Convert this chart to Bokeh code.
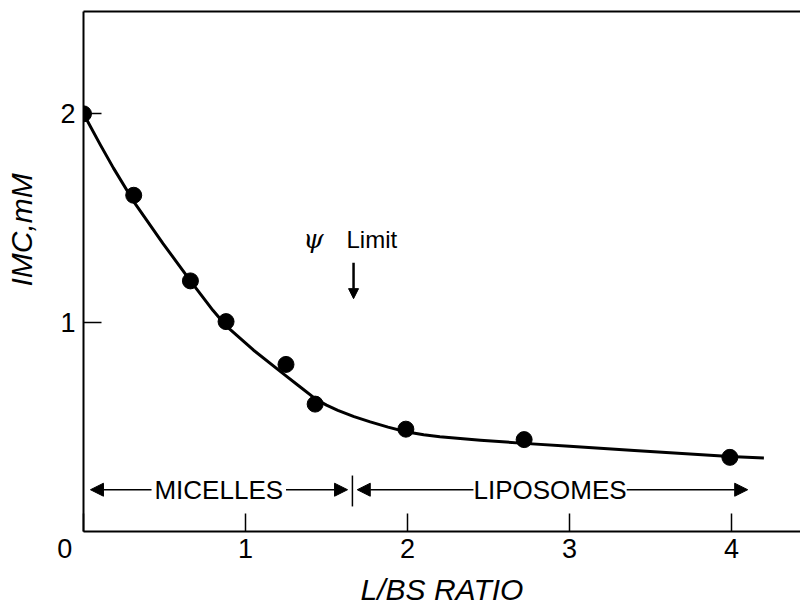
from bokeh.plotting import figure
from bokeh.models import (LinearAxis, FixedTicker, Range1d, Label, Arrow,
                          NormalHead)
from bokeh.embed import file_html
from bokeh.resources import INLINE

# measured data points
lbs_ratio = [0.0, 0.31, 0.66, 0.88, 1.25, 1.43, 1.99, 2.72, 3.99]
imc_mM = [2.0, 1.61, 1.20, 1.005, 0.80, 0.61, 0.49, 0.44, 0.355]

# fitted curve
curve_x = [0.0, 0.105, 0.185, 0.31, 0.49, 0.66, 0.80, 0.88, 1.05, 1.25,
           1.33, 1.43, 1.50, 1.57, 1.67, 1.77, 1.88, 1.99, 2.1, 2.2, 2.45,
           2.72, 3.0, 3.4, 3.99, 4.2]
curve_y = [2.0, 1.85, 1.74, 1.58, 1.38, 1.20, 1.058, 0.985, 0.868, 0.745,
           0.697, 0.636, 0.605, 0.58, 0.55, 0.525, 0.50, 0.478, 0.463,
           0.454, 0.437, 0.422, 0.408, 0.388, 0.359, 0.352]

x_ticks = [0, 1, 2, 3, 4]
y_ticks = [1, 2]
NB = "\u00a0"
x_tick_labels = {0: "0" + NB * 5, 1: "1", 2: "2", 3: "3", 4: "4"}

FONT = "Liberation Sans"

p = figure(width=800, height=610, output_backend="svg", toolbar_location=None,
           x_range=Range1d(0, 4.426), y_range=Range1d(0, 2.49),
           x_axis_location=None, y_axis_location=None,
           min_border_left=83, min_border_right=0, min_border_top=11,
           min_border_bottom=79)
p.outline_line_color = None
p.grid.visible = False
p.background_fill_color = "white"
p.border_fill_color = "white"

xax = LinearAxis(ticker=FixedTicker(ticks=x_ticks),
                 major_label_overrides=x_tick_labels)
yax = LinearAxis(ticker=FixedTicker(ticks=y_ticks))
for ax in (xax, yax):
    ax.axis_line_width = 2
    ax.axis_line_color = "black"
    ax.major_tick_in = 18
    ax.major_tick_out = 0
    ax.major_tick_line_width = 1.5
    ax.minor_tick_line_color = None
    ax.major_label_text_font = FONT
    ax.major_label_text_font_size = "27px"
    ax.major_label_text_color = "black"
    ax.axis_label_text_font = FONT
    ax.axis_label_text_font_style = "italic"
    ax.axis_label_text_font_size = "30px"
    ax.axis_label_text_color = "black"
xax.major_label_standoff = 2
yax.major_label_standoff = 8
xax.axis_label = "L/BS RATIO"
xax.axis_label_standoff = 6
yax.axis_label = NB * 10 + "IMC,mM"
yax.axis_label_standoff = 19
p.add_layout(xax, "below")
p.add_layout(yax, "left")

top = LinearAxis(major_tick_in=0, major_tick_out=0, major_label_text_font_size="0px",
                 minor_tick_line_color=None, axis_line_width=2,
                 ticker=FixedTicker(ticks=[]))
p.add_layout(top, "above")

p.line(curve_x, curve_y, line_width=3, line_color="black", line_join="round")
p.scatter(lbs_ratio, imc_mM, size=16, fill_color="black", line_color="black")

# region annotations
ry = 0.20
for xs, xe in [(0.42, 0.043), (1.25, 1.63), (2.41, 1.69), (3.35, 4.10)]:
    p.add_layout(Arrow(end=NormalHead(size=13, fill_color="black", line_color="black"),
                       x_start=xs, y_start=ry, x_end=xe, y_end=ry,
                       line_width=1.5, line_color="black"))
p.add_layout(Label(x=0.835, y=ry, text="MICELLES", text_font=FONT,
                   text_font_size="26px", text_align="center", text_color="black",
                   text_baseline="middle", background_fill_color="white"))
p.add_layout(Label(x=2.88, y=ry, text="LIPOSOMES", text_font=FONT,
                   text_font_size="26px", text_align="center", text_color="black",
                   text_baseline="middle", background_fill_color="white"))
p.segment(x0=[1.66], y0=[0.12], x1=[1.66], y1=[0.268], line_width=1.5,
          line_color="black")

# psi limit
p.add_layout(Label(x=1.42, y=1.40, text="ψ", text_font="DejaVu Serif",
                   text_font_style="italic", text_font_size="26px", text_color="black",
                   text_align="center", text_baseline="middle"))
p.add_layout(Label(x=1.78, y=1.40, text="Limit", text_font=FONT,
                   text_font_size="24px", text_align="center", text_color="black",
                   text_baseline="middle"))
p.add_layout(Arrow(end=NormalHead(size=10, fill_color="black", line_color="black"),
                   x_start=1.667, y_start=1.287, x_end=1.667, y_end=1.115,
                   line_width=2.5, line_color="black"))

open("out.html", "w").write(file_html(p, INLINE))
